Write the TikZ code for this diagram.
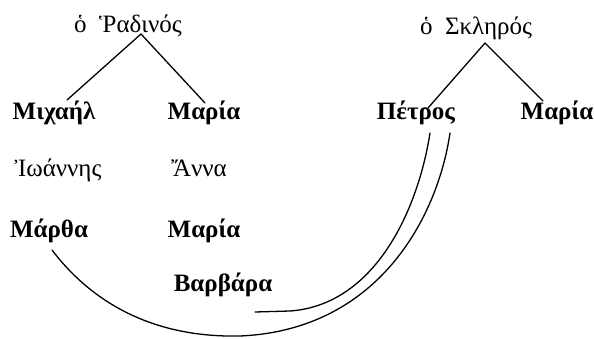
\documentclass[tikz,border=0pt]{standalone}
\usepackage{fontspec}
\setmainfont{Liberation Serif}
\begin{document}
\begin{tikzpicture}[x=1pt,y=-1pt,
  nm/.style={anchor=base,inner sep=0pt,font=\fontsize{25}{30}\selectfont\bfseries},
  nmr/.style={anchor=base,inner sep=0pt,font=\fontsize{25}{30}\selectfont},
  ttl/.style={anchor=base,inner sep=0pt,font=\fontsize{25}{30}\selectfont},
  ln/.style={line width=1.3pt,line cap=round}]
\useasboundingbox (0,0) rectangle (594,339);
\node[ttl] (rad) at (128,33) {ὁ\ \ Ῥαδινός};
\node[ttl] (skl) at (476,35) {ὁ\ \ Σκληρός};
\node[nm] (mich) at (54,120) {Μιχαήλ};
\node[nm] (mar1) at (204,120) {Μαρία};
\node[nm] (pet) at (416,120) {Πέτρος};
\node[nm] (mar2) at (557,120) {Μαρία};
\node[nmr] (ioa) at (58,177) {Ἰωάννης};
\node[nmr] (ann) at (199,177) {Ἄννα};
\node[nm] (mart) at (49,237) {Μάρθα};
\node[nm] (mar3) at (204,237) {Μαρία};
\node[nm] (barb) at (223,291) {Βαρβάρα};
% trees
\draw[ln] ([xshift=13pt,yshift=-1pt]rad.base) -- ([xshift=13pt,yshift=20pt]mich.base);
\draw[ln] ([xshift=13pt,yshift=-1pt]rad.base) -- ([xshift=1pt,yshift=17pt]mar1.base);
\draw[ln] ([xshift=9pt,yshift=-8pt]skl.base) -- ([xshift=12pt,yshift=12pt]pet.base);
\draw[ln] ([xshift=9pt,yshift=-8pt]skl.base) -- ([xshift=-14pt,yshift=19pt]mar2.base);
% marriage curves
\draw[ln] ([xshift=14pt,yshift=-13pt]pet.base) .. controls (418,210) and (375,305) .. (290,311) -- ([xshift=32pt,yshift=-21pt]barb.base);
\draw[ln] ([xshift=34pt,yshift=-13pt]pet.base) .. controls (438,215) and (380,330) .. (240,336) .. controls (150,338) and (90,300) .. ([xshift=3pt,yshift=-13pt]mart.base);
\end{tikzpicture}
\end{document}
